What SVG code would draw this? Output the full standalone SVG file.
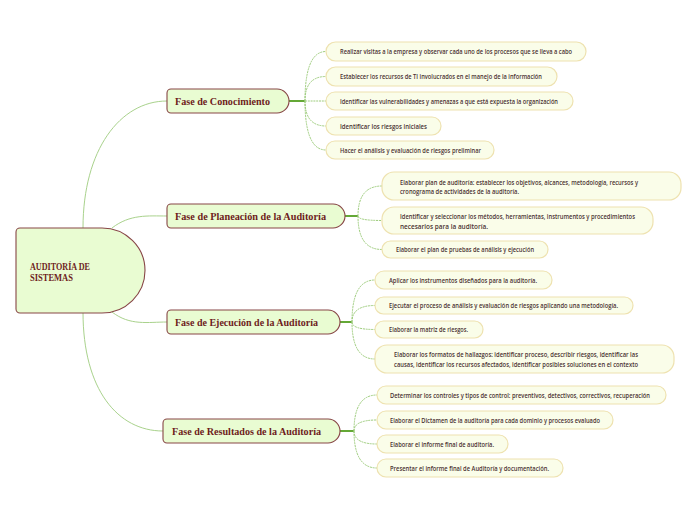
<svg xmlns="http://www.w3.org/2000/svg" width="696" height="520" viewBox="0 0 696 520">
<style>
.leaf rect{fill:#fafde9;stroke:#eee2b0;stroke-width:1.2}
.leaf text{font-family:"Open Sans","Liberation Sans",Arial,sans-serif;font-weight:600;font-size:7px;fill:#4a3232}
.phase path{fill:#e9fcd2;stroke:#874646;stroke-width:1.1}
.phase text{font-family:"Liberation Serif","Times New Roman",serif;font-weight:bold;font-size:10.5px;fill:#6e1c1c}
.main{fill:none;stroke:#a9d28c;stroke-width:1}
.trunk{fill:none;stroke:#64a836;stroke-width:2}
.twig{fill:none;stroke:#9dcc7c;stroke-width:1;stroke-dasharray:2 0.8}
</style>
<rect width="696" height="520" fill="#ffffff"/>
<g id="connectors">
<path class="main" d="M83,228 C83,150 120,101 167,101"/>
<path class="main" d="M112,228 C130,214 148,216 167,216"/>
<path class="main" d="M112,312 C130,326 148,322 167,322"/>
<path class="main" d="M83,312 C83,390 118,431 163,431"/>
<path class="trunk" d="M289,101 H305"/>
<path class="trunk" d="M345,216 H358"/>
<path class="trunk" d="M340,322 H352"/>
<path class="trunk" d="M340,431 H354"/>
<path class="twig" d="M305,101 Q305,51.5 326,51.5"/>
<path class="twig" d="M305,101 Q305,76.5 326,76.5"/>
<path class="twig" d="M305,101 H326"/>
<path class="twig" d="M305,101 Q305,126 326,126"/>
<path class="twig" d="M305,101 Q305,150 326,150"/>
<path class="twig" d="M358,216 Q358,186 382,186"/>
<path class="twig" d="M358,216 Q358,220.5 382,220.5"/>
<path class="twig" d="M358,216 Q358,249.5 382,249.5"/>
<path class="twig" d="M352,322 Q352,280 375,280"/>
<path class="twig" d="M352,322 Q352,305.5 375,305.5"/>
<path class="twig" d="M352,322 Q352,329.5 375,329.5"/>
<path class="twig" d="M352,322 Q352,359 375,359"/>
<path class="twig" d="M354,431 Q354,395 377,395"/>
<path class="twig" d="M354,431 Q354,420 377,420"/>
<path class="twig" d="M354,431 Q354,444 377,444"/>
<path class="twig" d="M354,431 Q354,468 377,468"/>
</g>
<g id="root" class="phase">
<path d="M20,228 H102 A43,42.5 0 0 1 102,313 H20 A4,4 0 0 1 16,309 V232 A4,4 0 0 1 20,228 Z"/>
<text x="30" y="270" style="font-size:9.5px" textLength="60" lengthAdjust="spacingAndGlyphs">AUDITORÍA DE</text>
<text x="30" y="281" style="font-size:9.5px" textLength="43" lengthAdjust="spacingAndGlyphs">SISTEMAS</text>
</g>
<g id="fase-conocimiento" class="phase">
<path d="M171,89 H277 A12,12 0 0 1 289,101 A12,12 0 0 1 277,113 H171 A4,4 0 0 1 167,109 V93 A4,4 0 0 1 171,89 Z"/>
<text x="175" y="105" textLength="95" lengthAdjust="spacingAndGlyphs">Fase de Conocimiento</text>
</g>
<g id="fase-planeacion" class="phase">
<path d="M171,204 H333 A12,12 0 0 1 345,216 A12,12 0 0 1 333,228 H171 A4,4 0 0 1 167,224 V208 A4,4 0 0 1 171,204 Z"/>
<text x="175" y="220" textLength="151" lengthAdjust="spacingAndGlyphs">Fase de Planeación de la Auditoría</text>
</g>
<g id="fase-ejecucion" class="phase">
<path d="M171,310 H328 A12,12 0 0 1 340,322 A12,12 0 0 1 328,334 H171 A4,4 0 0 1 167,330 V314 A4,4 0 0 1 171,310 Z"/>
<text x="175" y="326" textLength="143" lengthAdjust="spacingAndGlyphs">Fase de Ejecución de la Auditoría</text>
</g>
<g id="fase-resultados" class="phase">
<path d="M167,419 H328 A12,12 0 0 1 340,431 A12,12 0 0 1 328,443 H167 A4,4 0 0 1 163,439 V423 A4,4 0 0 1 167,419 Z"/>
<text x="172" y="435" textLength="149" lengthAdjust="spacingAndGlyphs">Fase de Resultados de la Auditoría</text>
</g>
<g id="c1" class="leaf"><rect x="326" y="42" width="260" height="19" rx="9.5"/><text x="340" y="54" textLength="232" lengthAdjust="spacingAndGlyphs">Realizar visitas a la empresa y observar cada uno de los procesos que se lleva a cabo</text></g>
<g id="c2" class="leaf"><rect x="326" y="67" width="231" height="19" rx="9.5"/><text x="340" y="79" textLength="202" lengthAdjust="spacingAndGlyphs">Establecer los recursos de TI involucrados en el manejo de la información</text></g>
<g id="c3" class="leaf"><rect x="326" y="92" width="247" height="18" rx="9"/><text x="340" y="103.5" textLength="218" lengthAdjust="spacingAndGlyphs">Identificar las vulnerabilidades y amenazas a que está expuesta la organización</text></g>
<g id="c4" class="leaf"><rect x="326" y="117" width="115" height="18" rx="9"/><text x="340" y="128.5" textLength="87" lengthAdjust="spacingAndGlyphs">Identificar los riesgos iniciales</text></g>
<g id="c5" class="leaf"><rect x="326" y="141" width="168" height="18" rx="9"/><text x="340" y="152.5" textLength="141" lengthAdjust="spacingAndGlyphs">Hacer el análisis y evaluación de riesgos preliminar</text></g>
<g id="p1" class="leaf"><rect x="382" y="172" width="299" height="28" rx="12"/><text x="400" y="184.5" textLength="238" lengthAdjust="spacingAndGlyphs">Elaborar plan de auditoría: establecer los objetivos, alcances, metodología, recursos y</text><text x="400" y="193.5" textLength="119" lengthAdjust="spacingAndGlyphs">cronograma de actividades de la auditoría.</text></g>
<g id="p2" class="leaf"><rect x="382" y="207" width="271" height="27" rx="12"/><text x="400" y="218.5" textLength="235" lengthAdjust="spacingAndGlyphs">Identificar y seleccionar los métodos, herramientas, instrumentos y procedimientos</text><text x="400" y="228.5" textLength="88" lengthAdjust="spacingAndGlyphs">necesarios para la auditoría.</text></g>
<g id="p3" class="leaf"><rect x="382" y="241" width="166" height="17" rx="8.5"/><text x="396" y="252" textLength="138" lengthAdjust="spacingAndGlyphs">Elaborar el plan de pruebas de análisis y ejecución</text></g>
<g id="e1" class="leaf"><rect x="375" y="271" width="177" height="18" rx="9"/><text x="389" y="282.5" textLength="148" lengthAdjust="spacingAndGlyphs">Aplicar los instrumentos diseñados para la auditoría.</text></g>
<g id="e2" class="leaf"><rect x="375" y="297" width="258" height="17" rx="8.5"/><text x="389" y="308" textLength="229" lengthAdjust="spacingAndGlyphs">Ejecutar el proceso de análisis y evaluación de riesgos aplicando una metodología.</text></g>
<g id="e3" class="leaf"><rect x="375" y="321" width="108" height="17" rx="8.5"/><text x="389" y="332" textLength="79" lengthAdjust="spacingAndGlyphs">Elaborar la matriz de riesgos.</text></g>
<g id="e4" class="leaf"><rect x="375" y="345" width="299" height="28" rx="12"/><text x="394" y="357" textLength="244" lengthAdjust="spacingAndGlyphs">Elaborar los formatos de hallazgos: identificar proceso, describir riesgos, identificar las</text><text x="394" y="367" textLength="244" lengthAdjust="spacingAndGlyphs">causas, identificar los recursos afectados, identificar posibles soluciones en el contexto</text></g>
<g id="r1" class="leaf"><rect x="377" y="386" width="289" height="18" rx="9"/><text x="390" y="397.5" style="font-size:6.4px" textLength="260" lengthAdjust="spacingAndGlyphs">Determinar los controles y tipos de control: preventivos, detectivos, correctivos, recuperación</text></g>
<g id="r2" class="leaf"><rect x="377" y="411" width="236" height="18" rx="9"/><text x="390" y="422.5" textLength="210" lengthAdjust="spacingAndGlyphs">Elaborar el Dictamen de la auditoría para cada dominio y procesos evaluado</text></g>
<g id="r3" class="leaf"><rect x="377" y="435" width="131" height="18" rx="9"/><text x="390" y="446.5" textLength="104" lengthAdjust="spacingAndGlyphs">Elaborar el informe final de auditoría.</text></g>
<g id="r4" class="leaf"><rect x="377" y="459" width="186" height="18" rx="9"/><text x="390" y="470.5" textLength="159" lengthAdjust="spacingAndGlyphs">Presentar el informe final de Auditoría y documentación.</text></g>
</svg>
